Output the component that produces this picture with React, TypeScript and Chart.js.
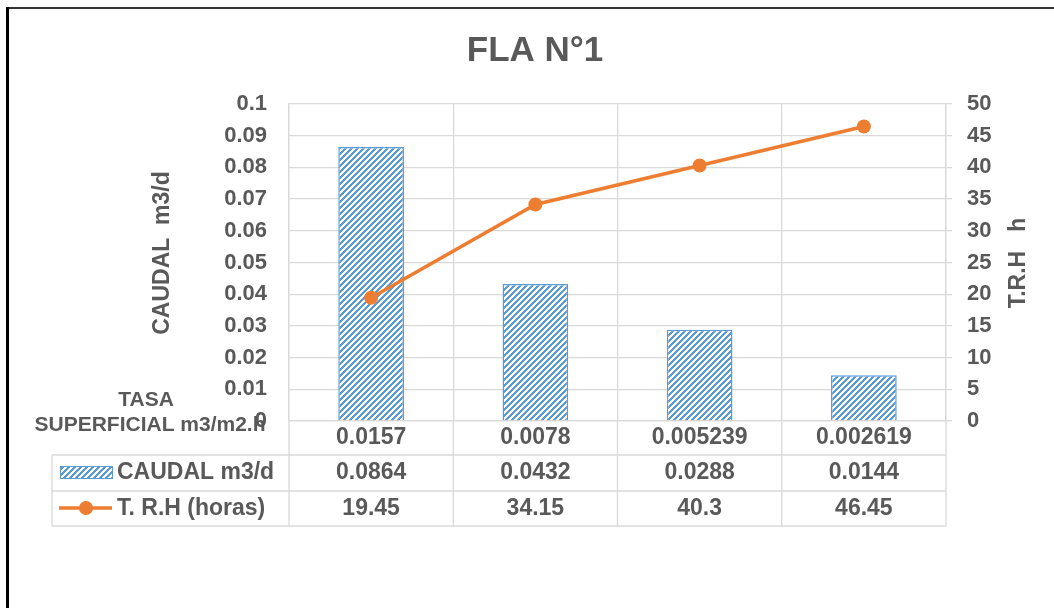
import React, { useEffect, useRef } from "react";
import { Chart, registerables } from "chart.js";

Chart.register(...registerables);

// Category labels (TASA SUPERFICIAL m3/m2.h)
const categories = ["0.0157", "0.0078", "0.005239", "0.002619"];
// CAUDAL m3/d
const caudal = [0.0864, 0.0432, 0.0288, 0.0144];
// T. R.H (horas)
const trh = [19.45, 34.15, 40.3, 46.45];
// Axis tick labels
const leftTickLabels = ["0", "0.01", "0.02", "0.03", "0.04", "0.05", "0.06", "0.07", "0.08", "0.09", "0.1"];
const rightTickLabels = ["0", "5", "10", "15", "20", "25", "30", "35", "40", "45", "50"];

const TITLE = "FLA N°1";
const CAUDAL_LABEL = "CAUDAL m3/d";
const TRH_LABEL = "T. R.H (horas)";
const LEFT_AXIS_TITLE = "CAUDAL  m3/d";
const RIGHT_AXIS_TITLE = "T.R.H   h";
const CATEGORY_TITLE = ["TASA", "SUPERFICIAL m3/m2.h"];

const TEXT = "#595959";
const GRID = "#d9d9d9";
const BLUE = "#5b9bd5";
const ORANGE = "#ed7d31";
const FONT = "'Liberation Sans', Arial, sans-serif";

function makeHatch(): CanvasPattern | string {
  const c = document.createElement("canvas");
  c.width = 6;
  c.height = 6;
  const g = c.getContext("2d");
  if (!g) return BLUE;
  g.fillStyle = "#ffffff";
  g.fillRect(0, 0, 6, 6);
  g.fillStyle = BLUE;
  for (let y = 0; y < 6; y++) {
    for (let x = 0; x < 6; x++) {
      if ((x + y) % 6 < 3) g.fillRect(x, y, 1, 1);
    }
  }
  const p = g.createPattern(c, "repeat");
  return p || BLUE;
}

export default function App() {
  const canvasRef = useRef<HTMLCanvasElement | null>(null);

  useEffect(() => {
    const canvas = canvasRef.current;
    if (!canvas) return;
    const hatch = makeHatch();

    const decorations = {
      id: "decorations",
      afterDraw(chart: any) {
        const ctx = chart.ctx as CanvasRenderingContext2D;
        const xs = chart.scales.x;
        const area = chart.chartArea;
        ctx.save();

        // outer frame
        ctx.fillStyle = "#333333";
        ctx.fillRect(6, 7, 1048, 2);
        ctx.fillStyle = "#000000";
        ctx.fillRect(6, 7, 3, 601);

        // title
        ctx.fillStyle = TEXT;
        ctx.textAlign = "center";
        ctx.textBaseline = "middle";
        ctx.font = `bold 35px ${FONT}`;
        ctx.fillText(TITLE, 535, 51);

        // axis titles
        ctx.font = `bold 23px ${FONT}`;
        ctx.save();
        ctx.translate(163, 253);
        ctx.rotate(-Math.PI / 2);
        ctx.fillText(LEFT_AXIS_TITLE, 0, 0);
        ctx.restore();
        ctx.save();
        ctx.translate(1019, 263);
        ctx.rotate(-Math.PI / 2);
        ctx.fillText(RIGHT_AXIS_TITLE, 0, 0);
        ctx.restore();

        // category axis title
        ctx.font = `bold 21px ${FONT}`;
        ctx.fillText(CATEGORY_TITLE[0], 146, 400);
        ctx.fillText(CATEGORY_TITLE[1], 150, 425);

        // data table grid
        const rowTop = area.bottom;
        const row1 = 455;
        const row2 = 491;
        const row3 = 526;
        const tableLeft = 52;
        ctx.strokeStyle = GRID;
        ctx.lineWidth = 1.3;
        ctx.beginPath();
        for (const y of [row1, row2, row3]) {
          ctx.moveTo(tableLeft, y);
          ctx.lineTo(area.right, y);
        }
        ctx.moveTo(tableLeft, row1);
        ctx.lineTo(tableLeft, row3);
        const bounds: number[] = [area.left];
        for (let i = 0; i < categories.length; i++) {
          bounds.push(xs.getPixelForValue(i + 0.5));
        }
        bounds[bounds.length - 1] = area.right;
        for (const bx of bounds) {
          ctx.moveTo(bx, rowTop);
          ctx.lineTo(bx, row3);
        }
        ctx.stroke();

        // legend keys
        ctx.fillStyle = hatch as any;
        ctx.fillRect(60, 466, 52, 12);
        ctx.strokeStyle = BLUE;
        ctx.lineWidth = 1;
        ctx.strokeRect(60.5, 466.5, 52, 12);
        ctx.strokeStyle = ORANGE;
        ctx.lineWidth = 3.5;
        ctx.beginPath();
        ctx.moveTo(59, 508);
        ctx.lineTo(112, 508);
        ctx.stroke();
        ctx.fillStyle = ORANGE;
        ctx.beginPath();
        ctx.arc(86, 508, 7, 0, Math.PI * 2);
        ctx.fill();

        // legend labels
        ctx.fillStyle = TEXT;
        ctx.font = `bold 23px ${FONT}`;
        ctx.textAlign = "left";
        ctx.fillText(CAUDAL_LABEL, 117, 473);
        ctx.fillText(TRH_LABEL, 117, 509);

        // table values
        ctx.textAlign = "center";
        for (let i = 0; i < categories.length; i++) {
          const cx = xs.getPixelForValue(i);
          ctx.fillText(String(caudal[i]), cx, 473);
          ctx.fillText(String(trh[i]), cx, 509);
        }
        ctx.restore();
      },
    };

    const chart = new Chart(canvas, {
      type: "bar",
      data: {
        labels: categories,
        datasets: [
          {
            type: "line",
            label: TRH_LABEL,
            data: trh,
            yAxisID: "y1",
            borderColor: ORANGE,
            backgroundColor: ORANGE,
            borderWidth: 3.5,
            pointRadius: 7,
            pointBorderWidth: 0,
            pointBackgroundColor: ORANGE,
            tension: 0,
            order: 0,
          },
          {
            type: "bar",
            label: CAUDAL_LABEL,
            data: caudal,
            yAxisID: "y",
            backgroundColor: hatch as any,
            borderColor: BLUE,
            borderWidth: 1.5,
            categoryPercentage: 1,
            barPercentage: 0.4,
            order: 1,
          },
        ],
      },
      options: {
        responsive: false,
        animation: false,
        devicePixelRatio: 1,
        layout: { padding: { top: 104, left: 0, right: 0, bottom: 0 } },
        plugins: {
          legend: { display: false },
          title: { display: false },
          tooltip: { enabled: false },
        },
        scales: {
          x: {
            type: "category",
            offset: true,
            grid: { display: true, offset: true, color: GRID, lineWidth: 1.3, drawTicks: false },
            border: { display: true, color: GRID, width: 1.3 },
            ticks: {
              color: TEXT,
              font: { family: FONT, size: 23, weight: "bold" },
              padding: 3,
              maxRotation: 0,
              autoSkip: false,
            },
            afterFit(scale: any) {
              scale.height = 187;
            },
          },
          y: {
            position: "left",
            min: 0,
            max: 0.1,
            ticks: {
              stepSize: 0.01,
              color: TEXT,
              font: { family: FONT, size: 22, weight: "bold" },
              padding: 22,
              callback: (_v: any, i: number) => leftTickLabels[i],
            },
            grid: { color: GRID, lineWidth: 1.3, drawTicks: false },
            border: { display: true, color: GRID, width: 1.3 },
            afterFit(scale: any) {
              scale.width = 289;
            },
          },
          y1: {
            position: "right",
            min: 0,
            max: 50,
            ticks: {
              stepSize: 5,
              color: TEXT,
              font: { family: FONT, size: 22, weight: "bold" },
              padding: 15,
              callback: (_v: any, i: number) => rightTickLabels[i],
            },
            grid: { drawOnChartArea: false, color: GRID, lineWidth: 1.3, tickLength: 6 },
            border: { display: true, color: GRID, width: 1.3 },
            afterFit(scale: any) {
              scale.width = 108;
            },
          },
        },
      },
      plugins: [decorations],
    } as any);

    return () => chart.destroy();
  }, []);

  return (
    <div style={{ position: "fixed", left: 0, top: 0, width: 1054, height: 608, background: "#ffffff" }}>
      <canvas ref={canvasRef} width={1054} height={608} style={{ display: "block" }} />
    </div>
  );
}
